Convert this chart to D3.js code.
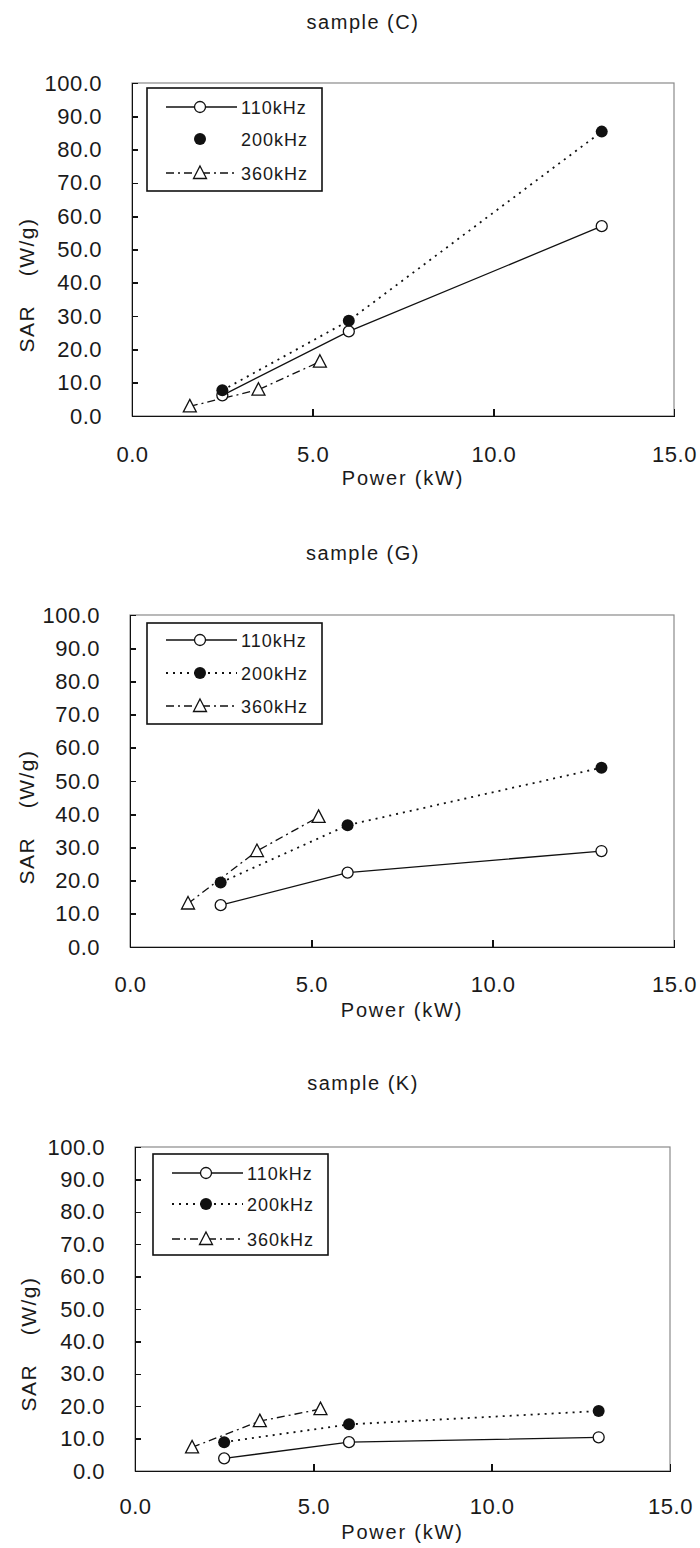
<!DOCTYPE html>
<html>
  <head>
    <script src="https://d3js.org/d3.v7.min.js" charset="utf-8"></script>
    <style type="text/css">
      body {
        margin: 0;
        padding: 0;
        background: #fff;
      }
      svg text {
        font-family: "Liberation Sans", Arial, sans-serif;
        fill: #1a1a1a;
      }
      .tick text {
        font-size: 22px;
        letter-spacing: 0.5px;
      }
      .frame {
        fill: none;
        stroke: #8a8a8a;
        stroke-width: 1.2;
      }
      .axis path,
      .axis line {
        stroke: #111;
        stroke-width: 1.6;
        shape-rendering: crispEdges;
      }
      .legend rect {
        fill: #fff;
        stroke: #111;
        stroke-width: 1.6;
      }
    </style>
  </head>
  <body>
    <svg id="chart"></svg>
  <script type="text/javascript">

    // data
    var seriesNames = ["110kHz", "200kHz", "360kHz"];
    var xTickValues = [0, 5, 10, 15];
    var yTickValues = [0, 10, 20, 30, 40, 50, 60, 70, 80, 90, 100];

    var power110 = [2.5, 6.0, 13.0];
    var power200 = [2.5, 6.0, 13.0];
    var power360 = [1.6, 3.5, 5.2];

    var sarC110 = [6.2, 25.4, 57.0];
    var sarC200 = [7.7, 28.6, 85.4];
    var sarC360 = [2.9, 7.9, 16.3];

    var sarG110 = [12.6, 22.4, 28.9];
    var sarG200 = [19.4, 36.7, 54.0];
    var sarG360 = [13.1, 28.9, 39.2];

    var sarK110 = [3.9, 8.9, 10.4];
    var sarK200 = [8.9, 14.4, 18.5];
    var sarK360 = [7.3, 15.4, 19.1];

    var titles = ["sample (C)", "sample (G)", "sample (K)"];
    var xTitle = "Power (kW)";
    var yTitleParts = ["SAR\u3000", "(W/g)"];

    // line styles per series
    var dashes = [null, "2,5", "8,4,2,4"];

    // layout of each panel (pixels)
    var panels = [
      { title: titles[0], sar: [sarC110, sarC200, sarC360], x0: 132, x1: 674, y0: 83, y1: 416,
        titleY: 29, labelRight: 102, xTickBase: 462, xTitleBase: 485, yTitleX: 27, yTitleY: 285,
        legend: { x: 147, y: 88, w: 175, h: 103, rows: [19, 51, 85] }, hideLegendLine: [false, true, false] },
      { title: titles[1], sar: [sarG110, sarG200, sarG360], x0: 130, x1: 674, y0: 615, y1: 947,
        titleY: 560, labelRight: 100, xTickBase: 992, xTitleBase: 1017, yTitleX: 27, yTitleY: 817,
        legend: { x: 147, y: 623, w: 175, h: 101, rows: [17, 50, 83] }, hideLegendLine: [false, false, false] },
      { title: titles[2], sar: [sarK110, sarK200, sarK360], x0: 135, x1: 670, y0: 1147, y1: 1471,
        titleY: 1090, labelRight: 105, xTickBase: 1514, xTitleBase: 1539, yTitleX: 29, yTitleY: 1344,
        legend: { x: 153, y: 1154, w: 175, h: 101, rows: [19, 50, 85] }, hideLegendLine: [false, false, false] }
    ];
    var powers = [power110, power200, power360];

    var canvas_width = 700;
    var canvas_height = 1548;

    var svg = d3.select("#chart")
        .attr("width", canvas_width)
        .attr("height", canvas_height);

    function drawMarker(g, kind, x, y) {
      if (kind === 0) {
        g.append("circle").attr("cx", x).attr("cy", y).attr("r", 5.5)
          .attr("fill", "#fff").attr("stroke", "#111").attr("stroke-width", 1.3);
      } else if (kind === 1) {
        g.append("circle").attr("cx", x).attr("cy", y).attr("r", 6)
          .attr("fill", "#111");
      } else {
        var s = 6.5;
        g.append("path")
          .attr("d", "M" + x + "," + (y - 7) + "L" + (x + s) + "," + (y + 5.5) + "L" + (x - s) + "," + (y + 5.5) + "Z")
          .attr("fill", "#fff").attr("stroke", "#111").attr("stroke-width", 1.3);
      }
    }

    panels.forEach(function (p) {
      var xScale = d3.scaleLinear().domain([0, 15]).range([p.x0, p.x1]);
      var yScale = d3.scaleLinear().domain([0, 100]).range([p.y1, p.y0]);

      // title
      svg.append("text")
        .attr("x", 363)
        .attr("y", p.titleY)
        .attr("text-anchor", "middle")
        .style("font-size", "20px")
        .style("letter-spacing", "1.5px")
        .text(p.title);

      // plot frame (top and right in grey)
      svg.append("rect")
        .attr("class", "frame")
        .attr("x", p.x0).attr("y", p.y0)
        .attr("width", p.x1 - p.x0).attr("height", p.y1 - p.y0);

      // axes with inward ticks
      var yAxis = d3.axisLeft(yScale)
        .tickValues(yTickValues)
        .tickSizeInner(-6)
        .tickSizeOuter(0)
        .tickPadding(p.x0 - p.labelRight)
        .tickFormat(d3.format(".1f"));
      svg.append("g")
        .attr("class", "y axis")
        .attr("transform", "translate(" + p.x0 + ",0)")
        .call(yAxis);

      var xAxis = d3.axisBottom(xScale)
        .tickValues(xTickValues)
        .tickSizeInner(-7)
        .tickSizeOuter(0)
        .tickFormat(d3.format(".1f"));
      svg.append("g")
        .attr("class", "x axis")
        .attr("transform", "translate(0," + p.y1 + ")")
        .call(xAxis)
        .selectAll("text")
          .attr("dy", null)
          .attr("y", p.xTickBase - p.y1);

      // axis titles
      svg.append("text")
        .attr("x", (p.x0 + p.x1) / 2)
        .attr("y", p.xTitleBase)
        .attr("text-anchor", "middle")
        .style("font-size", "20px")
        .style("letter-spacing", "1.8px")
        .text(xTitle);

      var yt = svg.append("text")
        .attr("transform", "translate(" + (p.yTitleX + 7) + "," + p.yTitleY + ") rotate(-90)")
        .attr("text-anchor", "middle")
        .style("font-size", "21px")
        .style("letter-spacing", "1.5px");
      yt.append("tspan").text(yTitleParts[0]);
      yt.append("tspan").attr("dx", 6).text(yTitleParts[1]);

      // series lines and markers
      var line = d3.line()
        .x(function (d) { return xScale(d[0]); })
        .y(function (d) { return yScale(d[1]); });

      p.sar.forEach(function (vals, i) {
        var pts = vals.map(function (v, j) { return [powers[i][j], v]; });
        svg.append("path")
          .datum(pts)
          .attr("d", line)
          .attr("fill", "none")
          .attr("stroke", "#111")
          .attr("stroke-width", i === 1 ? 1.8 : 1.3)
          .attr("stroke-dasharray", dashes[i]);
      });
      p.sar.forEach(function (vals, i) {
        var g = svg.append("g");
        vals.forEach(function (v, j) {
          drawMarker(g, i, xScale(powers[i][j]), yScale(v));
        });
      });

      // legend
      var lg = svg.append("g")
        .attr("class", "legend")
        .attr("transform", "translate(" + p.legend.x + "," + p.legend.y + ")");
      lg.append("rect")
        .attr("width", p.legend.w)
        .attr("height", p.legend.h);
      seriesNames.forEach(function (name, i) {
        var ry = p.legend.rows[i];
        if (!p.hideLegendLine[i]) {
          lg.append("line")
            .attr("x1", 19).attr("x2", 90)
            .attr("y1", ry).attr("y2", ry)
            .attr("stroke", "#111")
            .attr("stroke-width", i === 1 ? 1.8 : 1.3)
            .attr("stroke-dasharray", dashes[i]);
        }
        drawMarker(lg, i, 53, ry);
        lg.append("text")
          .attr("x", 94)
          .attr("y", ry + 7)
          .style("font-size", "18px")
          .style("letter-spacing", "1px")
          .text(name);
      });
    });

  </script>
  </body>
</html>
